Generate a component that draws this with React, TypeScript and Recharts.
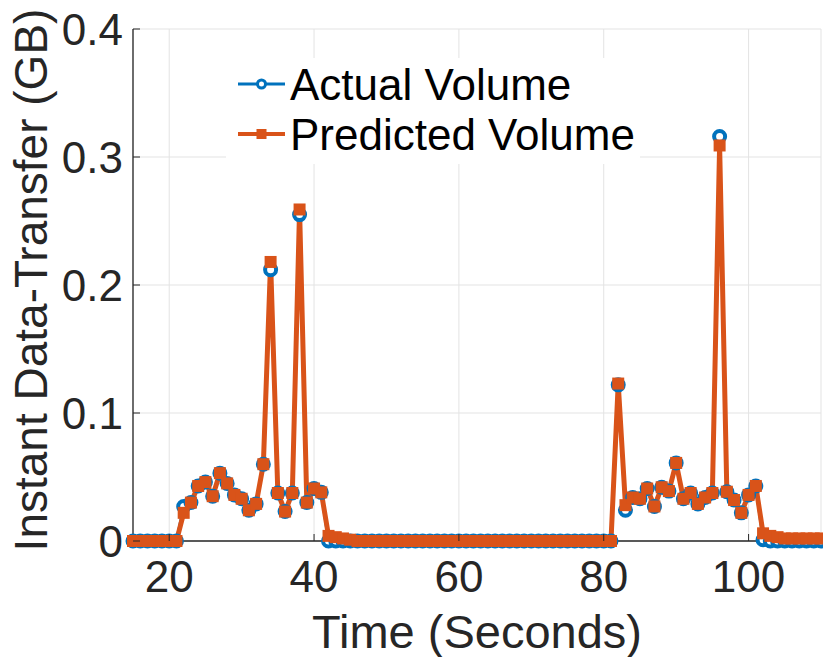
import React from "react";
import { LineChart, Line, XAxis, YAxis, CartesianGrid, Legend } from "recharts";

const FONT = '"Liberation Sans", Arial, Helvetica, sans-serif';
const AXIS = "#262626";
const BLUE = "#0072BD";
const ORANGE = "#D95319";

// time in seconds, one sample per second
const time = [
  15, 16, 17, 18, 19, 20, 21, 22, 23, 24, 25, 26, 27, 28, 29, 30, 31, 32, 33, 34,
  35, 36, 37, 38, 39, 40, 41, 42, 43, 44, 45, 46, 47, 48, 49, 50, 51, 52, 53, 54,
  55, 56, 57, 58, 59, 60, 61, 62, 63, 64, 65, 66, 67, 68, 69, 70, 71, 72, 73, 74,
  75, 76, 77, 78, 79, 80, 81, 82, 83, 84, 85, 86, 87, 88, 89, 90, 91, 92, 93, 94,
  95, 96, 97, 98, 99, 100, 101, 102, 103, 104, 105, 106, 107, 108, 109, 110,
];

const actual = [
  0, 0, 0, 0, 0, 0, 0,
  0.027, 0.03, 0.043, 0.046, 0.035, 0.053, 0.045, 0.036, 0.033, 0.024,
  0.029, 0.06, 0.212, 0.0375, 0.023, 0.0375, 0.255, 0.03, 0.041, 0.038,
  0, 0, 0, 0,
  0, 0, 0, 0, 0, 0, 0, 0, 0, 0, 0, 0, 0, 0, 0, 0, 0, 0,
  0, 0, 0, 0, 0, 0, 0, 0, 0, 0, 0, 0, 0, 0, 0, 0, 0, 0,
  0.122, 0.024, 0.034, 0.033, 0.041, 0.027, 0.042, 0.039, 0.061, 0.033,
  0.0375, 0.029, 0.034, 0.0375, 0.316, 0.0385, 0.032, 0.022, 0.036, 0.043,
  0.001, 0, 0, 0, 0, 0, 0, 0, 0,
];

const predicted = [
  0, 0, 0, 0, 0, 0, 0,
  0.022, 0.03, 0.043, 0.046, 0.035, 0.053, 0.045, 0.036, 0.033, 0.024,
  0.029, 0.06, 0.218, 0.0375, 0.023, 0.0375, 0.259, 0.03, 0.041, 0.038,
  0.004, 0.003, 0.002, 0.001,
  0, 0, 0, 0, 0, 0, 0, 0, 0, 0, 0, 0, 0, 0, 0, 0, 0, 0,
  0, 0, 0, 0, 0, 0, 0, 0, 0, 0, 0, 0, 0, 0, 0, 0, 0, 0,
  0.123, 0.028, 0.034, 0.033, 0.041, 0.027, 0.042, 0.039, 0.061, 0.033,
  0.0375, 0.029, 0.034, 0.0375, 0.309, 0.0385, 0.032, 0.022, 0.036, 0.043,
  0.006, 0.004, 0.003, 0.002, 0.002, 0.002, 0.002, 0.002, 0.002,
];

const xTicks = [20, 40, 60, 80, 100];
const yTicks = [0, 0.1, 0.2, 0.3, 0.4];

const data = time.map((t, i) => ({ t, actual: actual[i], predicted: predicted[i] }));

const XTick = (props: any) => {
  const { x, y, payload } = props;
  return (
    <g>
      <line x1={x} x2={x} y1={y} y2={y - 7} stroke={AXIS} strokeWidth={1} />
      <text x={x} y={y + 51} textAnchor="middle" fontFamily={FONT} fontSize={44} fill={AXIS}>
        {payload.value}
      </text>
    </g>
  );
};

const YTick = (props: any) => {
  const { x, y, payload } = props;
  return (
    <g>
      <line x1={x} x2={x + 7} y1={y} y2={y} stroke={AXIS} strokeWidth={1} />
      <text x={x - 10} y={y + 16} textAnchor="end" fontFamily={FONT} fontSize={44} fill={AXIS}>
        {payload.value}
      </text>
    </g>
  );
};

const TopTick = (props: any) => {
  const { x, y } = props;
  return <line x1={x} x2={x} y1={y} y2={y + 7} stroke={AXIS} strokeWidth={1} />;
};

const RightTick = (props: any) => {
  const { x, y } = props;
  return <line x1={x} x2={x - 7} y1={y} y2={y} stroke={AXIS} strokeWidth={1} />;
};

const Square = (props: any) => {
  const { cx, cy, index } = props;
  if (cx == null || cy == null) return <g key={index} />;
  return <rect key={index} x={cx - 6} y={cy - 6} width={12} height={12} fill={ORANGE} />;
};

const renderLegend = (props: any) => {
  const items = props.payload || [];
  return (
    <svg width={414} height={106} style={{ display: "block", background: "#fff" }}>
      {items.map((item: any, i: number) => {
        const ly = 26 + i * 50;
        return (
          <g key={item.value}>
            <line x1={12} x2={59} y1={ly} y2={ly} stroke={item.color} strokeWidth={i === 0 ? 3 : 4} />
            {i === 0 ? (
              <circle cx={35.5} cy={ly} r={4} fill="#fff" stroke={item.color} strokeWidth={3} />
            ) : (
              <rect x={30.5} y={ly - 5} width={10} height={10} fill={item.color} />
            )}
            <text x={64} y={ly + 16} fontFamily={FONT} fontSize={44} fill="#000">
              {item.value}
            </text>
          </g>
        );
      })}
    </svg>
  );
};

export default function App() {
  return (
    <div style={{ position: "absolute", left: 0, top: 0, background: "#fff" }}>
      <LineChart width={823} height={657} data={data} margin={{ top: 29, right: 2, bottom: 0, left: 0 }}>
        <CartesianGrid stroke="#e3e3e3" strokeWidth={1} />
        <XAxis
          dataKey="t"
          type="number"
          domain={[15, 110]}
          ticks={xTicks}
          height={116}
          tickSize={0}
          tickMargin={0}
          tickLine={false}
          axisLine={{ stroke: AXIS, strokeWidth: 1.3 }}
          tick={XTick}
          label={(p: any) => {
            const vb = p.viewBox || {};
            return (
              <text
                x={vb.x + vb.width / 2}
                y={vb.y + 107}
                textAnchor="middle"
                fontFamily={FONT}
                fontSize={47}
                fill={AXIS}
              >
                Time (Seconds)
              </text>
            );
          }}
        />
        <XAxis
          xAxisId="top"
          dataKey="t"
          type="number"
          orientation="top"
          domain={[15, 110]}
          ticks={xTicks}
          height={0}
          tickSize={0}
          tickMargin={0}
          tickLine={false}
          axisLine={{ stroke: AXIS, strokeWidth: 1.3 }}
          tick={TopTick}
        />
        <YAxis
          type="number"
          domain={[0, 0.4]}
          ticks={yTicks}
          width={133}
          tickSize={0}
          tickMargin={0}
          tickLine={false}
          axisLine={{ stroke: AXIS, strokeWidth: 1.3 }}
          tick={YTick}
          label={(p: any) => {
            const vb = p.viewBox || {};
            const cx = 47;
            const cy = vb.y + vb.height / 2 - 5;
            return (
              <text
                x={cx}
                y={cy}
                transform={`rotate(-90, ${cx}, ${cy})`}
                textAnchor="middle"
                fontFamily={FONT}
                fontSize={46}
                fill={AXIS}
              >
                Instant Data-Transfer (GB)
              </text>
            );
          }}
        />
        <YAxis
          yAxisId="right"
          type="number"
          orientation="right"
          domain={[0, 0.4]}
          ticks={yTicks}
          width={0}
          tickSize={0}
          tickMargin={0}
          tickLine={false}
          axisLine={{ stroke: AXIS, strokeWidth: 1.3 }}
          tick={RightTick}
        />
        <Legend
          layout="vertical"
          align="center"
          verticalAlign="middle"
          content={renderLegend}
          wrapperStyle={{ left: 226, top: 58, width: 414, height: 106 }}
        />
        <Line
          type="linear"
          dataKey="actual"
          name="Actual Volume"
          stroke={BLUE}
          strokeWidth={3}
          dot={{ r: 5.5, fill: "#fff", stroke: BLUE, strokeWidth: 4 }}
          activeDot={false}
          isAnimationActive={false}
        />
        <Line
          type="linear"
          dataKey="predicted"
          name="Predicted Volume"
          stroke={ORANGE}
          strokeWidth={5}
          dot={Square}
          activeDot={false}
          isAnimationActive={false}
        />
      </LineChart>
    </div>
  );
}
